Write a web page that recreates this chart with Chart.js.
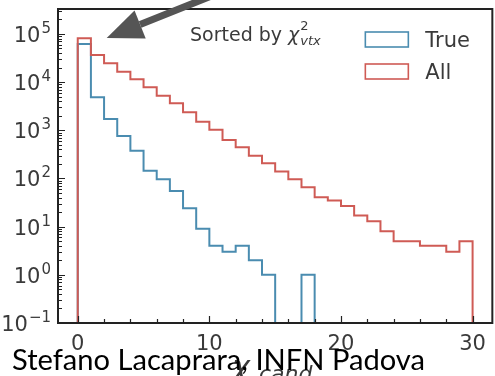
<!DOCTYPE html>
<html>
<head>
<meta charset="utf-8">
<script src="https://cdn.jsdelivr.net/npm/chart.js@4.4.1/dist/chart.umd.min.js"></script>
<style>
    html, body { margin: 0; padding: 0; background: #fff; }
    #wrap { width: 495px; height: 376px; position: relative; }
</style>
</head>
<body>
<div id="wrap"><canvas id="histChart"></canvas></div>
<script>
// Histogram bins (unit width, 0..30)
const binEdges = [0, 1, 2, 3, 4, 5, 6, 7, 8, 9, 10, 11, 12, 13, 14, 15, 16, 17, 18, 19, 20,
    21, 22, 23, 24, 25, 26, 27, 28, 29, 30];

// Counts per bin
const trueCounts = [62000, 4850, 1720, 760, 378, 145, 96, 55, 24, 9, 4, 3, 4, 2, 1, 0, 0, 1,
    0, 0, 0, 0, 0, 0, 0, 0, 0, 0, 0, 0];
const allCounts = [81500, 36600, 24700, 16500, 11500, 7800, 5200, 3640, 2370, 1510, 1030, 630,
    445, 298, 207, 139, 96, 66, 41, 35, 27, 17, 13, 8, 5, 5, 4, 4, 3, 5];

const seriesLabels = ['True', 'All'];
const seriesColors = ['#4a8cb0', '#cf5b55'];

// Axes
const xTickValues = [0, 10, 20, 30];
const yTickValues = [0.1, 1, 10, 100, 1000, 10000, 100000];
const yTickExponents = ['\u22121', '0', '1', '2', '3', '4', '5'];
const xMin = -1.5, xMax = 31.5;
const yMin = 0.1, yMax = 330000;

const footerText = 'Stefano Lacaprara, INFN Padova';

// step outline of a histogram, empty bins go to the bottom of the axis
function stepPoints(counts) {
    let pts = [{x: binEdges[0], y: yMin}];
    counts.forEach((c, i) => {
        pts.push({x: binEdges[i + 1], y: c > 0 ? c : yMin});
    });
    pts.push({x: binEdges[binEdges.length - 1], y: yMin});
    return pts;
}

const INK = '#222';
const LABEL = '#3a3a3a';

const decorPlugin = {
    id: 'decor',
    afterDatasetsDraw(chart) {
        const {ctx, chartArea: a, scales: {x, y}} = chart;
        ctx.save();

        // inside ticks
        ctx.strokeStyle = INK;
        ctx.lineWidth = 1.2;
        ctx.beginPath();
        yTickValues.forEach(v => {
            const py = Math.round(y.getPixelForValue(v)) + 0.5;
            ctx.moveTo(a.left, py); ctx.lineTo(a.left + 7, py);
            for (let m = 2; m <= 9; m++) {
                if (v * m >= yMax) break;
                const pm = Math.round(y.getPixelForValue(v * m)) + 0.5;
                ctx.moveTo(a.left, pm); ctx.lineTo(a.left + 4, pm);
            }
        });
        for (let v = 0; v <= 30; v += 2) {
            const px = Math.round(x.getPixelForValue(v)) + 0.5;
            const len = xTickValues.includes(v) ? 7 : 4;
            ctx.moveTo(px, a.bottom); ctx.lineTo(px, a.bottom - len);
        }
        ctx.stroke();

        // frame
        ctx.lineWidth = 2;
        ctx.strokeRect(a.left, a.top, a.right - a.left, a.bottom - a.top);

        // legend
        ctx.font = '21px "DejaVu Sans"';
        ctx.textBaseline = 'alphabetic';
        ctx.textAlign = 'left';
        seriesLabels.forEach((lab, i) => {
            const bx = a.right - 127, by = a.top + 23 + i * 32;
            ctx.fillStyle = '#fff';
            ctx.fillRect(bx, by, 43, 15);
            ctx.strokeStyle = seriesColors[i];
            ctx.lineWidth = 1.6;
            ctx.strokeRect(bx, by, 43, 15);
            ctx.fillStyle = LABEL;
            ctx.fillText(lab, bx + 60, by + 15);
        });

        // "Sorted by chi2_vtx"
        let tx = 190, ty = 41;
        ctx.fillStyle = LABEL;
        ctx.font = '19px "DejaVu Sans"';
        ctx.fillText('Sorted by ', tx, ty);
        tx += ctx.measureText('Sorted by ').width;
        ctx.font = 'italic 19px "DejaVu Sans"';
        ctx.fillText('\u03c7', tx, ty);
        tx += ctx.measureText('\u03c7').width + 1;
        ctx.font = '13px "DejaVu Sans"';
        ctx.fillText('2', tx, ty - 11);
        ctx.font = 'italic 13px "DejaVu Sans"';
        ctx.fillText('vtx', tx, ty + 4);

        ctx.restore();
    },
    afterDraw(chart) {
        const {ctx, chartArea: a, scales: {x, y}} = chart;
        ctx.save();

        // y tick labels with superscripts
        ctx.fillStyle = LABEL;
        ctx.textBaseline = 'alphabetic';
        yTickValues.forEach((v, i) => {
            const py = y.getPixelForValue(v);
            ctx.font = '15px "DejaVu Sans"';
            const ew = ctx.measureText(yTickExponents[i]).width;
            ctx.textAlign = 'left';
            ctx.fillText(yTickExponents[i], 51 - ew, py - 1);
            ctx.font = '21px "DejaVu Sans"';
            ctx.textAlign = 'right';
            ctx.fillText('10', 51 - ew - 1, py + 8);
        });

        // x axis title (mostly cut off by the footer / page edge)
        ctx.textAlign = 'left';
        ctx.font = 'italic 30px "DejaVu Sans"';
        ctx.fillText('\u03c7', 232, 377);
        ctx.font = 'italic 22px "DejaVu Sans"';
        ctx.fillText('cand', 259, 381);

        // footer
        ctx.fillStyle = '#000';
        ctx.font = '29px Lato';
        const fw = ctx.measureText(footerText).width;
        ctx.save();
        ctx.translate(12, 370);
        ctx.scale(413 / fw, 1);
        ctx.fillText(footerText, 0, 0);
        ctx.restore();

        // arrow pointing at the first bin
        const tipX = x.getPixelForValue(2.2), tipY = y.getPixelForValue(83000);
        const tailX = tipX + 100, tailY = tipY - 40;
        const len = Math.hypot(tailX - tipX, tailY - tipY);
        const ux = (tailX - tipX) / len, uy = (tailY - tipY) / len;
        const headLen = 36, headHalf = 15;
        const bx = tipX + ux * headLen, by = tipY + uy * headLen;
        ctx.strokeStyle = '#555';
        ctx.fillStyle = '#555';
        ctx.lineWidth = 7;
        ctx.beginPath();
        ctx.moveTo(bx, by); ctx.lineTo(tailX + ux * 10, tailY + uy * 10);
        ctx.stroke();
        ctx.beginPath();
        ctx.moveTo(tipX, tipY);
        ctx.lineTo(bx - uy * headHalf, by + ux * headHalf);
        ctx.lineTo(bx + uy * headHalf, by - ux * headHalf);
        ctx.closePath();
        ctx.fill();

        ctx.restore();
    }
};

let chart = new Chart(document.getElementById('histChart'), {
    type: 'line',
    data: {
        datasets: [
            {
                label: seriesLabels[0],
                data: stepPoints(trueCounts),
                borderColor: seriesColors[0],
                borderWidth: 2,
                stepped: 'after',
                pointRadius: 0,
                fill: false,
                order: 1
            },
            {
                label: seriesLabels[1],
                data: stepPoints(allCounts),
                borderColor: seriesColors[1],
                borderWidth: 2,
                stepped: 'after',
                pointRadius: 0,
                fill: false,
                order: 0
            }
        ]
    },
    options: {
        responsive: true,
        maintainAspectRatio: false,
        animation: false,
        layout: {padding: {top: 9, right: 1, left: 0, bottom: 0}},
        plugins: {
            legend: {display: false},
            tooltip: {enabled: false}
        },
        scales: {
            x: {
                type: 'linear',
                min: xMin,
                max: xMax,
                grid: {display: false, drawTicks: false},
                border: {display: false},
                afterBuildTicks: (scale) => { scale.ticks = xTickValues.map(v => ({value: v})); },
                afterFit: (scale) => { scale.height = 53; },
                ticks: {
                    padding: 9,
                    color: LABEL,
                    font: {family: 'DejaVu Sans', size: 21},
                    maxRotation: 0
                }
            },
            y: {
                type: 'logarithmic',
                min: yMin,
                max: yMax,
                grid: {display: false, drawTicks: false},
                border: {display: false},
                afterBuildTicks: (scale) => { scale.ticks = yTickValues.map(v => ({value: v})); },
                afterFit: (scale) => { scale.width = 58; },
                ticks: {display: false}
            }
        }
    },
    plugins: [decorPlugin]
});
</script>
</body>
</html>
